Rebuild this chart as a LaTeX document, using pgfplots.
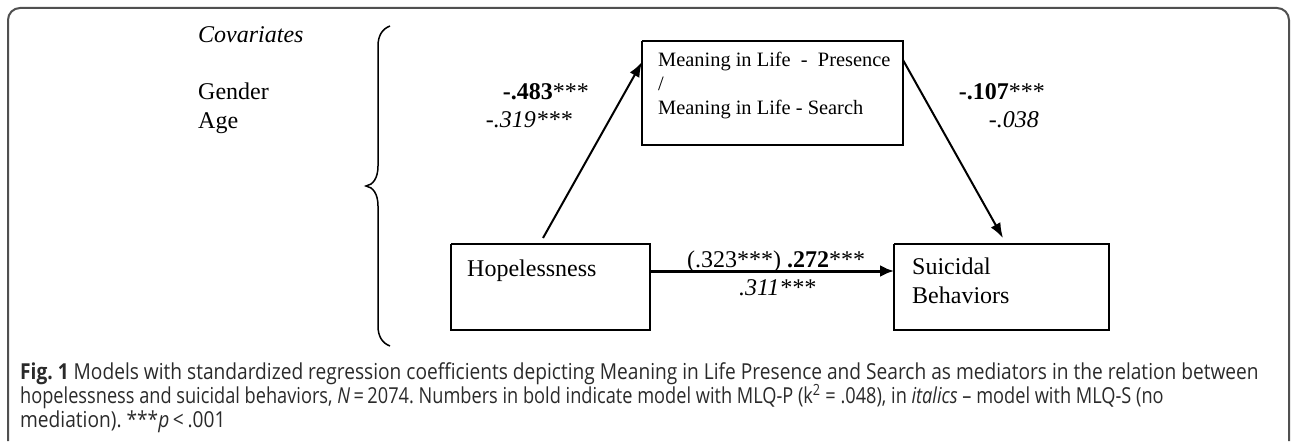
\documentclass[border=0pt]{standalone}
\usepackage{fontspec}
\setmainfont{Liberation Serif}
\newfontfamily\capfont[FakeStretch=0.87]{Open Sans}
\usepackage{pgfplots}
\pgfplotsset{compat=1.18}
\usetikzlibrary{arrows.meta}
\definecolor{capgray}{HTML}{2A2A2A}
\definecolor{framegray}{HTML}{505050}
\newcommand{\fs}[1]{\fontsize{#1bp}{#1bp}\selectfont}
\frenchspacing
\begin{document}
\begin{tikzpicture}
\begin{axis}[scale only axis, width=1292bp, height=442bp,
  xmin=0, xmax=1292, ymin=0, ymax=442, y dir=reverse, hide axis, clip=false]
\path (axis cs:0,0) rectangle (axis cs:1292,442);
% outer frame (open at bottom)
\draw[framegray, line width=2bp, rounded corners=12bp]
  (axis cs:8,441) -- (axis cs:8,8) -- (axis cs:1289,8) -- (axis cs:1289,441);
% boxes
\addplot[black, line width=1.8bp, line join=miter, mark=none] coordinates {(642,41) (903,41) (903,145) (642,145) (642,41)};
\addplot[black, line width=1.8bp, line join=miter, mark=none] coordinates {(451,244) (650,244) (650,330) (451,330) (451,244)};
\addplot[black, line width=1.8bp, line join=miter, mark=none] coordinates {(894,244) (1109,244) (1109,330) (894,330) (894,244)};
% arrows
\addplot[black, line width=2bp, mark=none, -{Latex[length=15bp,width=11bp]}] coordinates {(543,238) (642,62)};
\addplot[black, line width=2bp, mark=none, -{Latex[length=15bp,width=11bp]}] coordinates {(903,60) (1003,238)};
\addplot[black, line width=3bp, mark=none, -{Latex[length=14bp,width=12bp]}] coordinates {(650,271) (894,271)};
% brace
\draw[black, line width=1.5bp] (axis cs:390,26) .. controls (axis cs:382,29) and (axis cs:378,36) .. (axis cs:378,46)
  -- (axis cs:378,166) .. controls (axis cs:378,178) and (axis cs:373,185) .. (axis cs:366,186)
  .. controls (axis cs:373,187) and (axis cs:378,194) .. (axis cs:378,206)
  -- (axis cs:378,326) .. controls (axis cs:378,336) and (axis cs:382,343) .. (axis cs:390,346);
% covariates
\node[anchor=base west, inner sep=0pt] at (axis cs:198,43) {\fs{24}\itshape Covariates};
\node[anchor=base west, inner sep=0pt] at (axis cs:198,99) {\fs{24}Gender};
\node[anchor=base west, inner sep=0pt] at (axis cs:198,128) {\fs{24}Age};
% coefficients
\node[anchor=base east, inner sep=0pt] at (axis cs:589,99) {\fs{24}\textbf{-.483}***};
\node[anchor=base east, inner sep=0pt] at (axis cs:572,127) {\fs{24}\itshape -.319***};
\node[anchor=base east, inner sep=0pt] at (axis cs:1045,99) {\fs{24}\textbf{-.107}***};
\node[anchor=base east, inner sep=0pt] at (axis cs:1039,127) {\fs{24}\itshape -.038};
\node[anchor=base west, inner sep=0pt] at (axis cs:687,267) {\fs{24}(.323***) \textbf{.272}***};
\node[anchor=base west, inner sep=0pt] at (axis cs:739,295) {\fs{24}\itshape .311***};
% box texts
\node[anchor=base west, inner sep=0pt] at (axis cs:658,67) {\fs{20.4}Meaning in Life\ \ -\ \ Presence};
\node[anchor=base west, inner sep=0pt] at (axis cs:658,91) {\fs{20.4}/};
\node[anchor=base west, inner sep=0pt] at (axis cs:658,114) {\fs{20.4}Meaning in Life - Search};
\node[anchor=base west, inner sep=0pt] at (axis cs:467,276) {\fs{24}Hopelessness};
\node[anchor=base west, inner sep=0pt] at (axis cs:912,274) {\fs{24}Suicidal};
\node[anchor=base west, inner sep=0pt] at (axis cs:912,303) {\fs{24}Behaviors};
% caption
\node[anchor=base west, inner sep=0pt, text=capgray] at (axis cs:20,379) {\capfont\fs{22}\textbf{Fig. 1} Models with standardized regression coefficients depicting Meaning in Life Presence and Search as mediators in the relation between};
\node[anchor=base west, inner sep=0pt, text=capgray] at (axis cs:20,403) {\scalebox{0.95}[1]{\capfont\fs{22}hopelessness and suicidal behaviors, \textit{N}\,=\,2074. Numbers in bold indicate model with MLQ-P (k\textsuperscript{2} = .048), in \textit{italics} – model with MLQ-S (no}};
\node[anchor=base west, inner sep=0pt, text=capgray] at (axis cs:20,427) {\capfont\fs{22}mediation). ***\textit{p}\,<\,.001};
\end{axis}
\end{tikzpicture}
\end{document}
